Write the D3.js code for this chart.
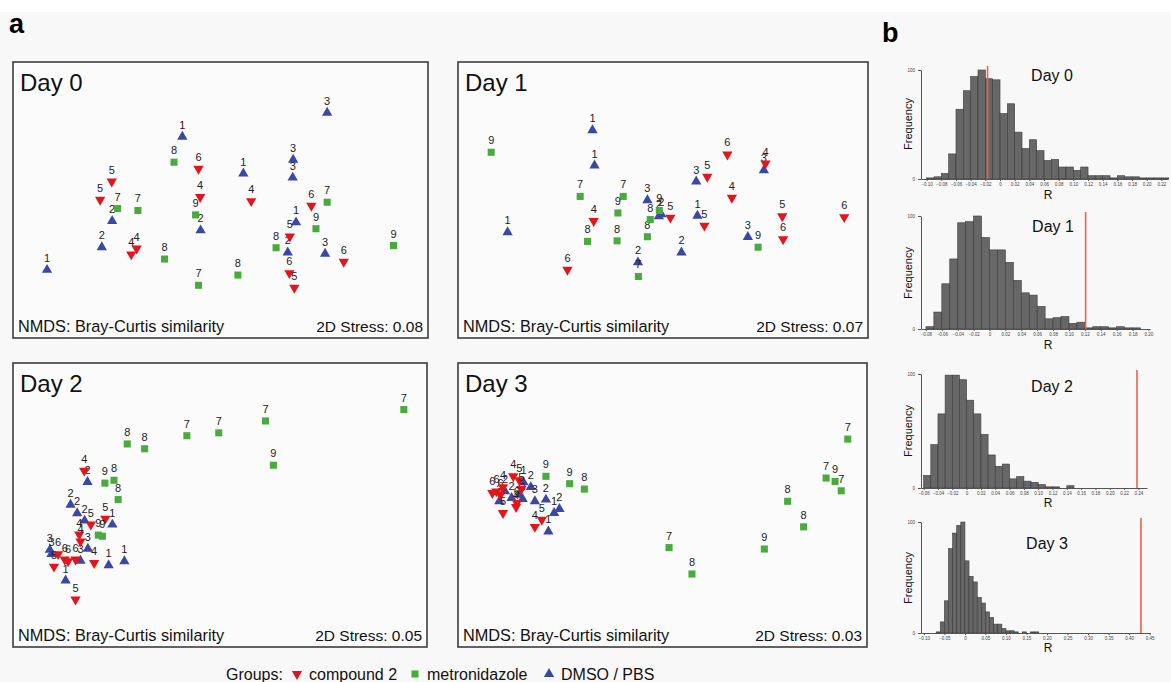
<!DOCTYPE html>
<html>
<head>
<meta charset="utf-8">
<script src="https://cdn.jsdelivr.net/npm/d3@7"></script>
<style>
  body { margin: 0; background: #fff; font-family: "Liberation Sans", Arial, sans-serif; }
</style>
</head>
<body>
<svg id="fig" width="1171" height="682"></svg>
<script>
/*------------------------------- data -------------------------------*/

// NMDS ordination scores (arbitrary units, 0-100), label = animal id, group code:
// c = compound 2, m = metronidazole, d = DMSO / PBS
const day0Points = [
  [8.2, 24.7, "1", "d"], [40.8, 72.9, "1", "d"], [55.5, 59.6, "1", "d"], [75.7, 81.6, "3", "d"],
  [67.5, 64.6, "3", "d"], [67.4, 58.1, "3", "d"], [68.2, 41.9, "1", "d"], [23.9, 42.4, "2", "d"],
  [21.4, 32.9, "2", "d"], [45.2, 39.0, "2", "d"], [66.2, 31.0, "2", "d"], [75.2, 30.5, "3", "d"],
  [23.8, 56.7, "5", "c"], [21.0, 50.1, "5", "c"], [44.7, 61.3, "6", "c"], [45.1, 51.1, "4", "c"],
  [57.4, 49.6, "4", "c"], [29.8, 32.4, "4", "c"], [28.5, 30.3, "4", "c"], [71.9, 47.9, "6", "c"],
  [66.7, 36.8, "5", "c"], [79.7, 27.6, "6", "c"], [66.6, 23.5, "6", "c"], [67.8, 18.2, "5", "c"],
  [38.8, 63.7, "8", "m"], [25.2, 46.9, "7", "m"], [30.1, 46.2, "7", "m"], [44.0, 44.6, "9", "m"],
  [36.5, 28.6, "8", "m"], [44.7, 19.1, "7", "m"], [54.2, 22.8, "8", "m"], [63.4, 32.7, "8", "m"],
  [75.7, 49.2, "7", "m"], [73.0, 39.6, "9", "m"], [91.7, 33.5, "9", "m"]
];

const day1Points = [
  [32.8, 75.3, "1", "d"], [33.3, 62.5, "1", "d"], [12.1, 38.3, "1", "d"], [46.2, 49.9, "3", "d"],
  [49.0, 44.1, "2", "d"], [49.6, 44.8, "2", "d"], [58.1, 56.7, "3", "d"], [58.4, 44.3, "1", "d"],
  [74.6, 60.8, "3", "d"], [70.7, 36.6, "3", "d"], [54.5, 31.0, "2", "d"], [43.9, 27.4, "2", "d"],
  [65.7, 66.5, "6", "c"], [75.0, 63.2, "4", "c"], [60.8, 58.4, "5", "c"], [66.8, 50.8, "4", "c"],
  [51.8, 43.6, "5", "c"], [60.1, 40.7, "5", "c"], [33.1, 42.4, "4", "c"], [26.7, 24.7, "6", "c"],
  [79.1, 44.1, "5", "c"], [79.3, 35.8, "6", "c"], [94.2, 43.8, "6", "c"],
  [8.1, 67.3, "9", "m"], [29.8, 51.3, "7", "m"], [40.3, 51.3, "7", "m"], [39.0, 45.3, "9", "m"],
  [31.6, 35.0, "8", "m"], [38.8, 35.2, "8", "m"], [46.2, 36.7, "8", "m"], [46.9, 42.9, "8", "m"],
  [49.1, 46.2, "9", "m"], [44.0, 22.3, "7", "m"], [73.2, 32.9, "9", "m"]
];

const day2Points = [
  [18.0, 58.1, "2", "d"], [13.9, 50.1, "2", "d"], [15.5, 47.1, "2", "d"], [17.3, 44.5, "2", "d"],
  [24.0, 43.1, "1", "d"], [18.1, 34.6, "3", "d"], [8.9, 34.2, "3", "d"], [9.3, 32.7, "3", "d"],
  [16.3, 30.4, "3", "d"], [12.7, 23.4, "1", "d"], [23.1, 28.8, "1", "d"], [26.9, 30.2, "1", "d"],
  [17.2, 62.1, "4", "c"], [18.8, 43.1, "5", "c"], [22.3, 45.2, "5", "c"], [16.0, 39.6, "4", "c"],
  [16.3, 37.2, "4", "c"], [9.9, 28.3, "5", "c"], [10.9, 32.7, "6", "c"], [12.5, 30.8, "6", "c"],
  [13.3, 30.2, "6", "c"], [15.1, 30.8, "6", "c"], [19.6, 29.6, "4", "c"], [15.1, 16.7, "5", "c"],
  [94.4, 83.6, "7", "m"], [61.0, 79.6, "7", "m"], [49.7, 75.4, "7", "m"], [42.0, 74.4, "7", "m"],
  [27.6, 71.5, "8", "m"], [31.8, 69.8, "8", "m"], [62.9, 64.0, "9", "m"], [22.2, 57.7, "9", "m"],
  [24.4, 58.7, "8", "m"], [25.4, 51.9, "8", "m"], [20.6, 39.4, "9", "m"], [21.6, 39.0, "9", "m"]
];

const day3Points = [
  [16.0, 58.0, "1", "d"], [17.8, 56.3, "2", "d"], [11.5, 54.8, "2", "d"], [10.1, 51.3, "3", "d"],
  [13.1, 52.5, "2", "d"], [15.8, 52.1, "3", "d"], [18.8, 51.3, "3", "d"], [21.5, 51.9, "2", "d"],
  [23.5, 47.2, "1", "d"], [24.8, 48.6, "2", "d"], [22.1, 40.7, "1", "d"], [15.0, 53.6, "1", "d"],
  [8.4, 54.2, "6", "c"], [10.4, 53.6, "6", "c"], [11.0, 56.3, "4", "c"], [13.5, 60.1, "4", "c"],
  [15.0, 58.7, "5", "c"], [15.5, 55.6, "5", "c"], [11.0, 47.2, "5", "c"], [14.2, 49.3, "4", "c"],
  [14.4, 50.7, "6", "c"], [20.5, 44.8, "5", "c"], [18.8, 42.3, "4", "c"], [9.4, 54.8, "6", "c"],
  [95.3, 73.2, "7", "m"], [90.0, 59.5, "7", "m"], [92.2, 58.3, "9", "m"], [93.7, 55.0, "7", "m"],
  [80.6, 51.3, "8", "m"], [84.5, 42.3, "8", "m"], [74.9, 34.5, "9", "m"], [51.6, 35.0, "7", "m"],
  [57.2, 25.7, "8", "m"], [21.5, 60.1, "9", "m"], [27.3, 57.5, "9", "m"], [30.9, 55.6, "8", "m"]
];

const dayNames = ["Day 0", "Day 1", "Day 2", "Day 3"];
const stressValues = ["0.08", "0.07", "0.05", "0.03"];

// ANOSIM permutation histograms: frequency per R bin (bin width 0.01)
const binWidth = 0.01;
const hist0Start = -0.10;
const hist0Counts = [1, 2, 5, 23, 64, 81, 94, 100, 92, 91, 60, 69, 43, 28, 36, 26, 17, 18, 11, 11, 8, 11, 3, 3, 3, 1, 3, 2, 2, 1, 1, 1, 1];
const hist1Start = -0.08;
const hist1Counts = [2, 15, 40, 62, 94, 95, 100, 81, 70, 70, 59, 43, 32, 30, 20, 9, 10, 11, 5, 6, 1, 2, 2, 1, 2, 1, 1];
const hist2Start = -0.06;
const hist2Counts = [11, 38, 65, 99, 99, 95, 77, 65, 47, 29, 19, 21, 8, 10, 6, 5, 3, 1, 1, 0, 2, 0];
const hist3Start = -0.07;
const hist3Counts = [1, 10, 29, 76, 90, 97, 100, 65, 51, 46, 32, 27, 19, 14, 8, 8, 4, 2, 2, 1, 0, 1, 0, 1, 1];
const observedR = [-0.017, 0.121, 0.238, 0.429];
const freqMax = 100;

const groupNames = ["compound 2", "metronidazole", "DMSO / PBS"];
const groupCodes = ["c", "m", "d"];

/*------------------------------- init -------------------------------*/

const width = 1171, height = 682;
const color = { c: "#e3141b", m: "#4aab3d", d: "#3a48a3" };
const fontFam = "'Liberation Sans', Arial, sans-serif";

const svg = d3.select("#fig").style("font-family", fontFam);
svg.append("rect").attr("x", 0).attr("y", 12).attr("width", width).attr("height", height - 12).attr("fill", "#f8f8f8");

const triPath = d3.symbol().type(d3.symbolTriangle).size(46)();
const sqPath = d3.symbol().type(d3.symbolSquare).size(50)();

svg.append("text").attr("x", 9).attr("y", 33).attr("font-size", 27).attr("font-weight", "bold").text("a");
svg.append("text").attr("x", 882).attr("y", 42).attr("font-size", 27).attr("font-weight", "bold").text("b");

/*------------------------------- NMDS panels -------------------------------*/

const nmdsBoxes = [
  [13, 62, 428, 338],
  [458, 62, 868, 338],
  [13, 363, 427, 647],
  [458, 363, 867, 647]
];
const nmdsData = [day0Points, day1Points, day2Points, day3Points];

nmdsData.forEach((points, i) => {
  const [x0, y0, x1, y1] = nmdsBoxes[i];
  const g = svg.append("g");
  g.append("rect")
    .attr("x", x0).attr("y", y0).attr("width", x1 - x0).attr("height", y1 - y0)
    .attr("fill", "#fbfbfb").attr("stroke", "#3c3c3c").attr("stroke-width", 1.6);

  const x = d3.scaleLinear().domain([0, 100]).range([x0, x1]);
  const y = d3.scaleLinear().domain([0, 100]).range([y1, y0]);

  const pts = points.map(d => ({ x: d[0], y: d[1], id: d[2], grp: d[3] }));
  const mark = g.selectAll(".pt").data(pts).enter().append("g")
    .attr("transform", d => `translate(${x(d.x)},${y(d.y)})`);
  mark.append("path")
    .attr("d", d => d.grp === "m" ? sqPath : triPath)
    .attr("transform", d => d.grp === "c" ? "rotate(180)" : null)
    .attr("fill", d => color[d.grp]);
  mark.append("text")
    .attr("y", -8).attr("text-anchor", "middle")
    .attr("font-size", 11).attr("fill", "#222")
    .text(d => d.id);

  g.append("text").attr("x", x0 + 7).attr("y", y0 + 29).attr("font-size", 24).attr("fill", "#111").text(dayNames[i]);
  g.append("text").attr("x", x0 + 5).attr("y", y1 - 6).attr("font-size", 16.3).attr("fill", "#111").text("NMDS: Bray-Curtis similarity");
  g.append("text").attr("x", x1 - 5).attr("y", y1 - 6).attr("text-anchor", "end").attr("font-size", 15.5).attr("fill", "#111").text("2D Stress: " + stressValues[i]);
});

/*------------------------------- Histograms -------------------------------*/

const hists = [
  { counts: hist0Counts, start: hist0Start, domain: [-0.1077, 0.229], range: [921, 1168], top: 70, bottom: 179, step: 0.02, ticks: [-0.10, 0.22], title: [1052, 81], rY: 199, fY: 124 },
  { counts: hist1Counts, start: hist1Start, domain: [-0.0862, 0.202], range: [921, 1150], top: 216, bottom: 329, step: 0.02, ticks: [-0.08, 0.20], title: [1053, 232], rY: 349, fY: 273 },
  { counts: hist2Counts, start: hist2Start, domain: [-0.0637, 0.252], range: [921, 1147], top: 374, bottom: 488, step: 0.02, ticks: [-0.06, 0.24], title: [1052, 392], rY: 507, fY: 431 },
  { counts: hist3Counts, start: hist3Start, domain: [-0.107, 0.451], range: [921, 1150], top: 522, bottom: 633, step: 0.05, ticks: [-0.10, 0.45], title: [1047, 549], rY: 652, fY: 578 }
];

const fmt = v => Math.abs(v) < 1e-9 ? "0" : d3.format(".2f")(v);

hists.forEach((h, i) => {
  const g = svg.append("g");
  const x = d3.scaleLinear().domain(h.domain).range(h.range);
  const y = d3.scaleLinear().domain([0, freqMax]).range([h.bottom, h.top]);

  const bins = h.counts.map((c, k) => ({ x0: h.start + k * binWidth, x1: h.start + (k + 1) * binWidth, c }));
  g.selectAll(".bar").data(bins.filter(b => b.c > 0)).enter().append("rect")
    .attr("x", d => x(d.x0)).attr("width", d => x(d.x1) - x(d.x0))
    .attr("y", d => y(d.c)).attr("height", d => y(0) - y(d.c))
    .attr("fill", "#676767").attr("stroke", "#3a3a3a").attr("stroke-width", 0.6);

  const n = Math.round((h.ticks[1] - h.ticks[0]) / h.step);
  const tickVals = d3.range(n + 1).map(k => +(h.ticks[0] + k * h.step).toFixed(2));
  const xAxis = g.append("g").attr("transform", `translate(0,${h.bottom})`)
    .call(d3.axisBottom(x).tickValues(tickVals).tickFormat(fmt).tickSize(2).tickSizeOuter(0));
  xAxis.select(".domain").attr("stroke", "#555");
  xAxis.selectAll(".tick line").attr("stroke", "#555");
  xAxis.selectAll("text").attr("font-size", 4.5).attr("fill", "#444").attr("dy", "0.5em").attr("font-family", fontFam);

  const yAxis = g.append("g").attr("transform", `translate(${h.range[0]},0)`)
    .call(d3.axisLeft(y).tickValues([0, freqMax]).tickSize(3).tickSizeOuter(0));
  yAxis.select(".domain").attr("stroke", "#555");
  yAxis.selectAll(".tick line").attr("stroke", "#555");
  yAxis.selectAll("text").attr("font-size", 4.5).attr("fill", "#444").attr("font-family", fontFam);

  g.append("line")
    .attr("x1", x(observedR[i])).attr("x2", x(observedR[i]))
    .attr("y1", h.top - 4).attr("y2", h.bottom)
    .attr("stroke", "#f26048").attr("stroke-width", 1.6);

  g.append("text").attr("x", h.title[0]).attr("y", h.title[1]).attr("text-anchor", "middle")
    .attr("font-size", 16).attr("fill", "#111").text(dayNames[i]);
  g.append("text").attr("x", 1048).attr("y", h.rY).attr("text-anchor", "middle")
    .attr("font-size", 12).attr("fill", "#111").text("R");
  g.append("text").attr("transform", `translate(912,${h.fY}) rotate(-90)`).attr("text-anchor", "middle")
    .attr("font-size", 11).attr("fill", "#111").text("Frequency");
});

/*------------------------------- Legend -------------------------------*/

const legend = svg.append("g").attr("id", "legend");
legend.append("text").attr("x", 226).attr("y", 680).attr("font-size", 16).attr("fill", "#111").text("Groups:");
const legendX = [297, 415, 549];
groupCodes.forEach((code, i) => {
  legend.append("path")
    .attr("d", code === "m" ? sqPath : triPath)
    .attr("transform", `translate(${legendX[i]},674)` + (code === "c" ? " rotate(180)" : ""))
    .attr("fill", color[code]);
  legend.append("text").attr("x", legendX[i] + 12).attr("y", 680).attr("font-size", 16).attr("fill", "#111").text(groupNames[i]);
});
</script>
</body>
</html>
